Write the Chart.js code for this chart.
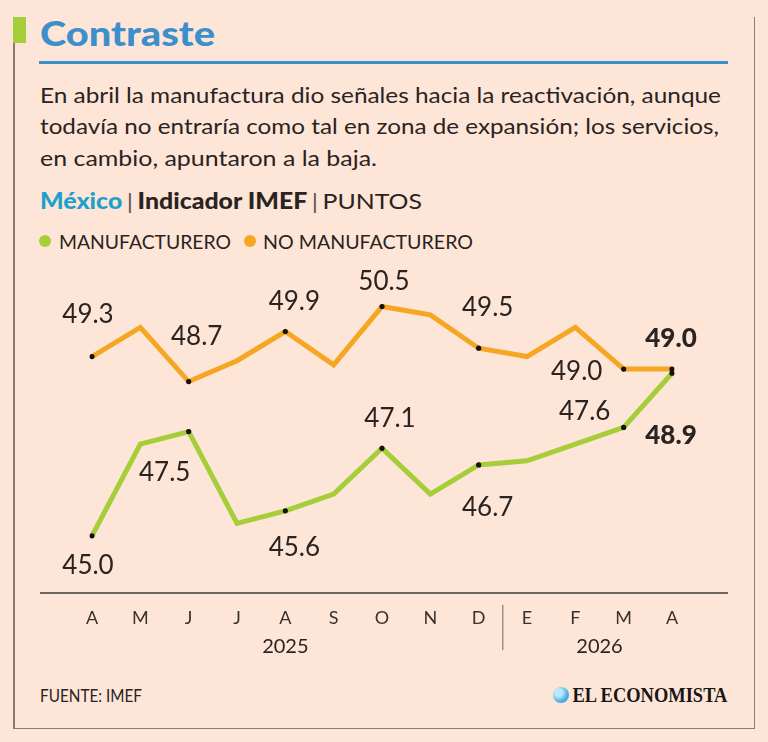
<!DOCTYPE html>
<html lang="es">
<head>
<meta charset="utf-8">
<title>Contraste</title>
<script src="https://cdn.jsdelivr.net/npm/chart.js@4.4.1/dist/chart.umd.min.js"></script>
<style>
  html, body { margin: 0; padding: 0; }
  body {
    width: 768px; height: 742px; position: relative; overflow: hidden;
    background: #fde6d8; font-family: Lato, "Noto Sans", sans-serif; color: #2b2321;
  }
  .abs { position: absolute; white-space: nowrap; }
  .fit { transform-origin: left top; }
  .fit-r { transform-origin: right top; }
  #bar { left: 13px; top: 17px; width: 13px; height: 26px; background: #a6ce39; }
  .line { position: absolute; background: #8a7c72; }
  #title { left: 40px; top: 11px; font-size: 35px; font-weight: 900; color: #3d8fcc; line-height: 42px; }
  #rule { position: absolute; left: 39px; top: 61px; width: 689px; height: 3px; background: #3d8fcc; }
  .para { left: 40px; font-size: 22px; line-height: 26px; }
  #sub { left: 40px; top: 188px; font-size: 22px; line-height: 26px; }
  #sub .mx { color: #1f9fcb; font-weight: 900; }
  #sub .ind { font-weight: 900; }
  #sub .sep { color: #555; font-weight: 400; padding: 0 4px; }
  .dot { position: absolute; width: 12px; height: 12px; border-radius: 50%; }
  .leg { font-size: 20px; line-height: 24px; top: 229px; }
  #chartBox { position: absolute; left: 0; top: 255px; width: 768px; height: 405px; }
  #src { left: 40px; top: 684px; font-size: 18px; line-height: 22px; }
  #logo { right: 41px; top: 683px; font-family: "Liberation Serif", "DejaVu Serif", serif; font-weight: 700; font-size: 21px; line-height: 24px; color: #1a1616; }
  #globe { position: absolute; left: 553px; top: 687px; width: 16px; height: 16px; border-radius: 50%;
    background: radial-gradient(circle at 35% 35%, #bfe7fa 0 25%, #49b3e6 60%, #2f9ad6 100%); }
</style>
</head>
<body>
<div class="abs" id="bar"></div>
<div class="line" style="left:13px; top:43px; width:1.5px; height:686px;"></div>
<div class="line" style="left:13px; top:727.5px; width:742px; height:1.5px;"></div>
<div class="line" style="left:753.5px; top:17px; width:1.5px; height:712px;"></div>

<div class="abs fit" id="title" data-w="175">Contraste</div>
<div id="rule"></div>

<div class="abs para fit" style="top:82px;" data-w="681">En abril la manufactura dio señales hacia la reactivación, aunque</div>
<div class="abs para fit" style="top:113px;" data-w="679">todavía no entraría como tal en zona de expansión; los servicios,</div>
<div class="abs para fit" style="top:144.5px;" data-w="337">en cambio, apuntaron a la baja.</div>

<div class="abs fit" id="sub" data-w="382"><span class="mx">México</span><span class="sep">|</span><span class="ind">Indicador IMEF</span><span class="sep">|</span>PUNTOS</div>

<div class="dot" style="left:39px; top:235px; background:#a6ce39;"></div>
<div class="abs leg fit" style="left:59px;" data-w="172">MANUFACTURERO</div>
<div class="dot" style="left:243.5px; top:235px; background:#f5a623;"></div>
<div class="abs leg fit" style="left:263px;" data-w="210">NO MANUFACTURERO</div>

<div id="chartBox"><canvas id="imefChart"></canvas></div>

<div class="abs fit" id="src" data-w="102">FUENTE: IMEF</div>
<div id="globe"></div>
<div class="abs fit-r" id="logo" data-w="155">EL ECONOMISTA</div>

<script>
// Indicador IMEF, puntos (abr 2025 - abr 2026)
const months = ['A', 'M', 'J', 'J', 'A', 'S', 'O', 'N', 'D', 'E', 'F', 'M', 'A'];
const years = ['2025', '2026'];
const yearStart = [0, 9];
const manufacturero = [45.0, 47.2, 47.5, 45.3, 45.6, 46.0, 47.1, 46.0, 46.7, 46.8, 47.2, 47.6, 48.9];
const noManufacturero = [49.3, 50.0, 48.7, 49.2, 49.9, 49.1, 50.5, 50.3, 49.5, 49.3, 50.0, 49.0, 49.0];
const labeledIdx = [0, 2, 4, 6, 8, 11, 12];

const GREEN = '#a6ce39';
const ORANGE = '#f5a623';
const INK = '#2b2321';

// stretch header texts to the widths of the original
document.querySelectorAll('[data-w]').forEach(el => {
    const w = el.getBoundingClientRect().width;
    el.style.transform = 'scaleX(' + (parseFloat(el.dataset.w) / w) + ')';
});

// label offsets from its point, same order as labeledIdx
const labelPlacement = [
    [[-4, 29], [-24, 40], [9, 36], [8, -31], [9, 42], [-39, -17], [-1, 61]],
    [[-4, -43], [8, -46], [9, -31], [2, -26], [9, -42], [-47, 2], [-1, -31]]
];

const valueLabels = {
    id: 'valueLabels',
    afterDatasetsDraw(chart) {
        const ctx = chart.ctx;
        ctx.save();
        ctx.fillStyle = INK;
        ctx.textAlign = 'center';
        ctx.textBaseline = 'alphabetic';
        chart.data.datasets.forEach((ds, di) => {
            const meta = chart.getDatasetMeta(di);
            labeledIdx.forEach((i, k) => {
                const pt = meta.data[i];
                const [dx, dy] = labelPlacement[di][k];
                const last = i === ds.data.length - 1;
                ctx.font = (last ? '900 ' : '400 ') + '26px Lato';
                ctx.fillText(ds.data[i].toFixed(1), pt.x + dx, pt.y + dy + 9.4);
            });
        });
        ctx.restore();
    }
};

const axisDecor = {
    id: 'axisDecor',
    afterDraw(chart) {
        const { ctx, chartArea } = chart;
        const x = chart.scales.x;
        const y0 = chartArea.bottom;
        ctx.save();
        ctx.strokeStyle = '#6f6660';
        ctx.lineWidth = 2;
        ctx.beginPath();
        ctx.moveTo(chartArea.left - 52, y0);
        ctx.lineTo(chartArea.right + 56, y0);
        ctx.stroke();

        ctx.lineWidth = 1;
        ctx.fillStyle = INK;
        ctx.font = '400 20px Lato';
        ctx.textAlign = 'center';
        years.forEach((yr, k) => {
            const first = yearStart[k];
            const lastIdx = k + 1 < yearStart.length ? yearStart[k + 1] - 1 : months.length - 1;
            const cx = (x.getPixelForValue(first) + x.getPixelForValue(lastIdx)) / 2;
            ctx.fillText(yr, cx, y0 + 53 + 7);
            if (k > 0) {
                const sx = (x.getPixelForValue(first - 1) + x.getPixelForValue(first)) / 2;
                ctx.beginPath();
                ctx.moveTo(sx, y0 + 12);
                ctx.lineTo(sx, y0 + 57);
                ctx.stroke();
            }
        });
        ctx.restore();
    }
};

function dotRadius(ctx) {
    return labeledIdx.includes(ctx.dataIndex) ? 2.6 : 0;
}

new Chart(document.getElementById('imefChart'), {
    type: 'line',
    data: {
        labels: months,
        datasets: [{
            label: 'Manufacturero',
            data: manufacturero,
            borderColor: GREEN,
            borderWidth: 5,
            tension: 0,
            pointRadius: dotRadius,
            pointHoverRadius: dotRadius,
            pointBackgroundColor: '#111',
            pointBorderWidth: 0
        }, {
            label: 'No manufacturero',
            data: noManufacturero,
            borderColor: ORANGE,
            borderWidth: 5,
            tension: 0,
            pointRadius: dotRadius,
            pointHoverRadius: dotRadius,
            pointBackgroundColor: '#111',
            pointBorderWidth: 0
        }]
    },
    options: {
        responsive: true,
        maintainAspectRatio: false,
        animation: false,
        layout: { padding: { left: 92, right: 96, top: 22.3, bottom: 0 } },
        plugins: {
            legend: { display: false },
            tooltip: { enabled: false }
        },
        scales: {
            x: {
                offset: false,
                grid: { display: false, drawTicks: false },
                border: { display: false },
                ticks: { color: '#3a302c', font: { family: 'Lato', size: 18 }, padding: 14, maxRotation: 0, autoSkip: false },
                afterFit(scale) { scale.height = 67; }
            },
            y: {
                display: false,
                min: 43.63,
                max: 51.2
            }
        }
    },
    plugins: [valueLabels, axisDecor]
});
</script>
</body>
</html>
